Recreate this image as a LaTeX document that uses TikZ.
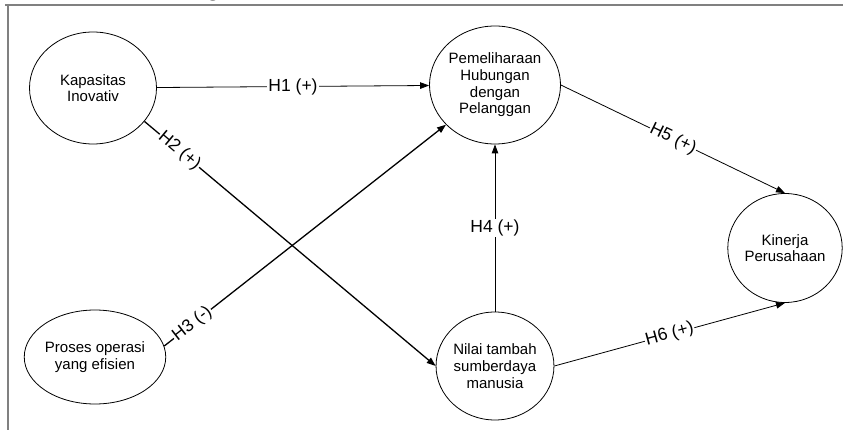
\documentclass[tikz,border=0pt]{standalone}
\usepackage{tikz}
\usepackage{xcolor}
\usepackage{fontspec}
\setmainfont{Liberation Sans}
\newfontfamily\headfont{Liberation Serif}
\definecolor{framegray}{rgb}{0.5,0.5,0.5}
\usetikzlibrary{arrows.meta,shapes.geometric,positioning}

\begin{document}
\begin{tikzpicture}[x=1pt,y=-1pt,
	construct/.style={ellipse,draw,line width=0.8pt,inner sep=0pt,align=center,
		font=\fontsize{15}{16.7}\selectfont},
	path/.style={line width=0.8pt,-{Triangle[length=9pt,width=6.5pt]}},
	crosspath/.style={path,line width=1.3pt},
	hyp/.style={fill=white,inner sep=1pt,font=\fontsize{17.5}{18}\selectfont}]
	\useasboundingbox (0,0) rectangle (843,430);
	
	% frame of the figure
	\draw[framegray,line width=1.7pt](5,5)--(843,5);
	\draw[framegray,line width=1.7pt](8,5)--(8,430);
	\node at (213,-3)[anchor=base,font=\headfont\bfseries\fontsize{20}{20}\selectfont,inner sep=0pt]{g};
	
	\node (kapasitas) at (93,88)[construct,minimum width=127pt,minimum height=112pt]{Kapasitas\\Inovativ};
	\node (proses) at (95,357)[construct,minimum width=117pt,minimum height=94pt]{Proses operasi\\yang efisien};
	\node (pemeliharaan) at (495,85)[construct,minimum width=124pt,minimum height=118pt]{Pemeliharaan\\Hubungan\\dengan\\Pelanggan};
	\node (nilai) at (495,366)[construct,minimum width=117pt,minimum height=108pt]{Nilai tambah\\sumberdaya\\manusia};
	\node (kinerja) at (785,248)[construct,minimum width=110pt,minimum height=109pt]{Kinerja\\Perusahaan};
	
	\draw[path](kapasitas)--node[hyp]{H1 (+)}(pemeliharaan);
	\draw[crosspath](kapasitas.-33)--node[hyp,sloped,pos=0.12]{H2 (+)}(nilai.180);
	\draw[crosspath](proses.9)--node[hyp,sloped,pos=0.1]{H3 (-)}(pemeliharaan.219);
	\draw[path](nilai.north)--node[hyp]{H4 (+)}(pemeliharaan.south);
	\draw[path](pemeliharaan.east)--node[hyp,sloped]{H5 (+)}(kinerja.north);
	\draw[path](nilai.east)--node[hyp,sloped]{H6 (+)}(kinerja.south);
\end{tikzpicture}
\end{document}
